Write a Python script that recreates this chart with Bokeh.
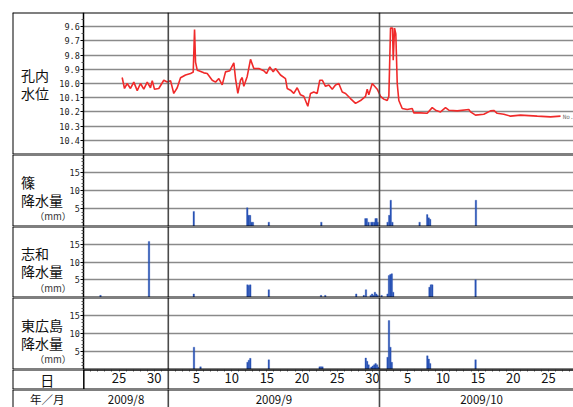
from bokeh.plotting import figure
from bokeh.models import Range1d, Span, FixedTicker, NumeralTickFormatter
from bokeh.layouts import column
from bokeh.embed import file_html
from bokeh.resources import INLINE
from bokeh.core.properties import value

# ---------------- data ----------------
# time axis: days after 2009-08-20 00:00
LEVEL_DAY = [5.45, 5.78, 6.16, 6.63, 7.10, 7.59, 8.05, 8.52, 9.01, 9.47, 9.72, 10.04,
             10.65, 11.36, 11.85, 12.32, 12.78, 13.27, 13.74, 14.45, 15.16, 15.54, 15.73,
             15.87, 16.11, 16.34, 17.05, 17.53, 18.24, 18.71, 19.18, 19.66, 20.13, 20.74,
             21.31, 21.55, 21.88, 22.26, 22.50, 22.73, 23.21, 23.68, 24.15, 24.86, 25.57,
             25.95, 26.42, 26.90, 27.23, 27.94, 28.65, 28.89, 29.36, 29.83, 30.31, 30.78,
             31.25, 31.82, 32.20, 32.67, 33.15, 33.52, 33.87, 34.33, 34.80, 35.29, 35.75,
             36.22, 36.71, 37.18, 37.88, 38.60, 39.31, 40.02, 40.26, 40.48, 40.97, 41.68,
             42.15, 42.61, 43.10, 43.33, 43.57, 43.85, 43.95, 44.14, 44.32, 44.52, 44.75,
             45.23, 45.94, 46.65, 46.88, 47.83, 48.78, 49.49, 49.96, 50.67, 51.38, 51.85,
             53.04, 54.69, 54.93, 55.64, 56.82, 57.77, 58.24, 58.72, 59.66, 60.61, 62.03,
             64.41, 66.30, 67.72]
LEVEL_M = [9.958, 10.035, 10.0, 10.035, 9.99, 10.05, 10.0, 10.04, 9.99, 10.03, 9.98, 10.04,
           10.035, 9.977, 9.99, 9.98, 10.07, 10.03, 9.96, 9.94, 9.93, 9.92, 9.62,
           9.85, 9.906, 9.91, 9.925, 9.93, 9.977, 9.99, 9.965, 10.01, 9.918, 9.91,
           9.855, 9.965, 10.07, 9.977, 9.958, 10.02, 9.95, 9.83, 9.894, 9.894, 9.91,
           9.93, 9.883, 9.918, 9.894, 9.94, 9.965, 10.035, 10.047, 10.07, 10.03, 10.08,
           10.09, 10.16, 10.07, 10.06, 10.07, 9.977, 9.977, 10.02, 10.01, 10.04, 10.01,
           10.0, 10.06, 10.07, 10.106, 10.14, 10.12, 10.09, 10.04, 10.08, 10.0, 10.04,
           10.09, 10.11, 10.12, 10.09, 9.61, 9.61, 9.836, 9.61, 9.65, 10.0, 10.12,
           10.176, 10.183, 10.176, 10.207, 10.207, 10.21, 10.17, 10.188, 10.2, 10.17, 10.188,
           10.193, 10.183, 10.2, 10.223, 10.216, 10.193, 10.19, 10.21, 10.216, 10.23, 10.223,
           10.23, 10.235, 10.23]

SHINO_DAY = [15.62, 23.22, 23.42, 23.62, 23.82, 24.02, 26.28, 33.74, 40.0, 40.2, 40.45,
             40.85, 41.05, 41.3, 41.45, 41.6, 41.75, 43.15, 43.38, 43.6, 43.83,
             47.7, 48.78, 49.0, 49.2, 55.7]
SHINO_MM = [4.2, 5.2, 3.1, 3.1, 1.2, 1.2, 1.2, 1.2, 2.2, 2.2, 1.2,
            1.2, 1.2, 1.2, 2.2, 2.2, 1.2, 1.2, 3.1, 7.3, 1.2,
            1.2, 3.3, 2.4, 2.0, 7.3]

SHIWA_DAY = [2.37, 9.26, 15.62, 23.25, 23.45, 23.65, 26.28, 33.7, 34.3, 38.7, 39.77, 40.08,
             40.75, 40.95, 41.15, 41.35, 41.55, 41.75, 42.3, 43.15, 43.35, 43.55, 43.75, 43.95,
             49.1, 49.3, 49.5, 55.65]
SHIWA_MM = [0.6, 15.8, 1.0, 3.6, 3.4, 3.6, 2.2, 0.6, 0.6, 1.0, 0.6, 2.2,
            0.6, 1.0, 0.6, 1.5, 1.0, 0.6, 0.6, 1.0, 6.2, 6.5, 6.7, 1.5,
            2.9, 3.6, 3.6, 5.0]

HH_DAY = [15.65, 16.58, 23.25, 23.45, 23.65, 26.28, 33.5, 33.7, 33.9, 40.05, 40.25, 40.45,
          40.85, 41.05, 41.25, 41.45, 41.65, 41.85, 43.15, 43.35, 43.55, 43.75,
          48.8, 49.0, 49.2, 55.65]
HH_MM = [6.2, 0.75, 2.0, 2.6, 3.1, 2.7, 0.75, 0.75, 0.75, 3.2, 2.3, 1.3,
         0.7, 1.0, 1.3, 1.7, 1.3, 0.7, 3.4, 13.6, 6.2, 2.0,
         3.8, 2.9, 1.7, 2.7]

LEVEL_TICKS = [9.6, 9.7, 9.8, 9.9, 10.0, 10.1, 10.2, 10.3, 10.4]
LEVEL_MINOR = [9.55, 9.65, 9.75, 9.85, 9.95, 10.05, 10.15, 10.25, 10.35, 10.45]
RAIN_TICKS = [5, 10, 15]
RAIN_MINOR = [1, 2, 3, 4, 6, 7, 8, 9, 11, 12, 13, 14, 16, 17, 18, 19]
DAY_TICKS = [5, 10, 16, 21, 26, 31, 36, 41, 46, 51, 56, 61, 66]
DAY_LABELS = ["25", "30", "5", "10", "15", "20", "25", "30", "5", "10", "15", "20", "25"]
DAY_MINOR = list(range(0, 70))
MONTH_STARTS = [12, 42]
MONTH_LABEL_X = [6, 27, 56.5]
MONTH_LABELS = ["2009/8", "2009/9", "2009/10"]
ROW_LABELS = [["孔内", "水位"], ["篠", "降水量"], ["志和", "降水量"], ["東広島", "降水量"]]

# ---------------- styling / layout ----------------
JP = "Noto Sans CJK JP"
MONO = "DejaVu Sans Mono"
RED = "#f02a2a"
BLUE = "#2953b5"
GRID = "#8a8a8a"
X0, X1 = -10.13, 69.56     # left label column + data period
LAB_X = -8.92              # left edge of row labels
MM_X = -4.38               # centre of (mm) labels
COL_X = -5.2               # centre of 日 / 年/月


def make(height, yr, top=0, bottom_line=True):
    p = figure(width=573, height=height, x_range=Range1d(X0, X1), y_range=yr,
               output_backend="svg", toolbar_location=None,
               min_border=0, min_border_left=12, min_border_right=0,
               min_border_top=top, min_border_bottom=0, outline_line_color=None)
    p.xaxis.visible = False
    p.yaxis.visible = False
    p.xgrid.visible = False
    p.ygrid.visible = False
    for loc in MONTH_STARTS:
        p.add_layout(Span(location=loc, dimension="height", line_color="#4a4a4a", line_width=1.6))
    p.add_layout(Span(location=X0, dimension="height", line_color="black", line_width=2))
    p.add_layout(Span(location=yr.end, dimension="width", line_color="black", line_width=2))
    if bottom_line:
        p.add_layout(Span(location=yr.start, dimension="width", line_color="black", line_width=2))
    return p


def style_yaxis(p, ticks, minor, lo, hi, fmt=None):
    ax = p.yaxis[0]
    ax.visible = True
    ax.fixed_location = 0
    ax.ticker = FixedTicker(ticks=ticks, minor_ticks=minor)
    ax.bounds = (lo, hi)
    if fmt is not None:
        ax.formatter = fmt
    ax.axis_line_color = "black"
    ax.axis_line_width = 1.5
    ax.major_tick_out = 3
    ax.major_tick_in = 0
    ax.minor_tick_out = 2
    ax.minor_tick_in = 0
    ax.major_tick_line_color = "black"
    ax.minor_tick_line_color = "#555555"
    ax.major_label_standoff = 1
    ax.major_label_text_font = MONO
    ax.major_label_text_font_size = "8.5px"
    ax.major_label_text_color = "#222222"
    g = p.ygrid[0]
    g.visible = True
    g.ticker = FixedTicker(ticks=ticks)
    g.grid_line_color = GRID
    g.grid_line_width = 1.5
    try:
        g.cross_bounds = (0, X1)
    except AttributeError:
        g.visible = False
        p.segment(x0=0, x1=X1, y0=ticks, y1=ticks, line_color=GRID, line_width=1.5)


def row_label(p, lines, ys, mm_y=None):
    p.text(x=[LAB_X] * len(lines), y=ys, text=lines, text_font=value(JP),
           text_font_size="14px", text_baseline="middle", text_align="left", text_color="#111111")
    if mm_y is not None:
        p.text(x=[MM_X], y=[mm_y], text=["（mm）"], text_font=value(JP), text_font_size="9.5px",
               text_baseline="middle", text_align="center", text_color="#333333")


# water level panel
p_w = make(154, Range1d(10.5, 9.5), top=12)
style_yaxis(p_w, LEVEL_TICKS, LEVEL_MINOR, 9.5, 10.5, NumeralTickFormatter(format="0.0"))
p_w.line(LEVEL_DAY, LEVEL_M, line_color=RED, line_width=1.6)
p_w.text(x=[LEVEL_DAY[-1] + 0.3], y=[LEVEL_M[-1]], text=["No."], text_font=value(MONO),
         text_font_size="6px", text_baseline="middle", text_color="#777777")
row_label(p_w, ROW_LABELS[0], [9.942, 10.068])

# rainfall panels
rain_figs = []
for (days, mm, labels, h) in [(SHINO_DAY, SHINO_MM, ROW_LABELS[1], 72),
                               (SHIWA_DAY, SHIWA_MM, ROW_LABELS[2], 71),
                               (HH_DAY, HH_MM, ROW_LABELS[3], 72)]:
    p = make(h, Range1d(0, 20))
    style_yaxis(p, RAIN_TICKS, RAIN_MINOR, 0, 20)
    p.vbar(x=days, top=mm, bottom=0, width=0.22, fill_color=BLUE, line_color=BLUE, line_width=0.3)
    row_label(p, labels, [12.5, 7.4], mm_y=2.8)
    rain_figs.append(p)

# day row
p_day = make(20, Range1d(0, 1))
p_day.add_layout(Span(location=0, dimension="height", line_color="black", line_width=1.5))
xa = p_day.xaxis[0]
xa.visible = True
xa.fixed_location = 1
xa.ticker = FixedTicker(ticks=DAY_TICKS, minor_ticks=DAY_MINOR)
xa.major_label_overrides = dict(zip(DAY_TICKS, DAY_LABELS))
xa.bounds = (0, X1)
xa.axis_line_color = "black"
xa.axis_line_width = 2
xa.major_tick_out = 0
xa.major_tick_in = 0
xa.minor_tick_out = 2
xa.minor_tick_in = 0
xa.minor_tick_line_color = "#555555"
xa.major_label_standoff = 1
xa.major_label_text_font = JP
xa.major_label_text_font_size = "13px"
xa.major_label_text_color = "#111111"
p_day.text(x=[COL_X], y=[0.5], text=["日"], text_font=value(JP), text_font_size="14px",
           text_baseline="middle", text_align="center", text_color="#111111")

# year / month row
p_ym = make(18, Range1d(0, 1), bottom_line=False)
p_ym.text(x=MONTH_LABEL_X, y=[0.5] * len(MONTH_LABELS), text=MONTH_LABELS, text_font=value(JP),
          text_font_size="11.5px", text_baseline="middle", text_align="center", text_color="#111111")
p_ym.text(x=[COL_X], y=[0.5], text=["年／月"], text_font=value(JP), text_font_size="11.5px",
          text_baseline="middle", text_align="center", text_color="#111111")

layout = column([p_w] + rain_figs + [p_day, p_ym], spacing=0)
open("out.html", "w").write(file_html(layout, INLINE))
